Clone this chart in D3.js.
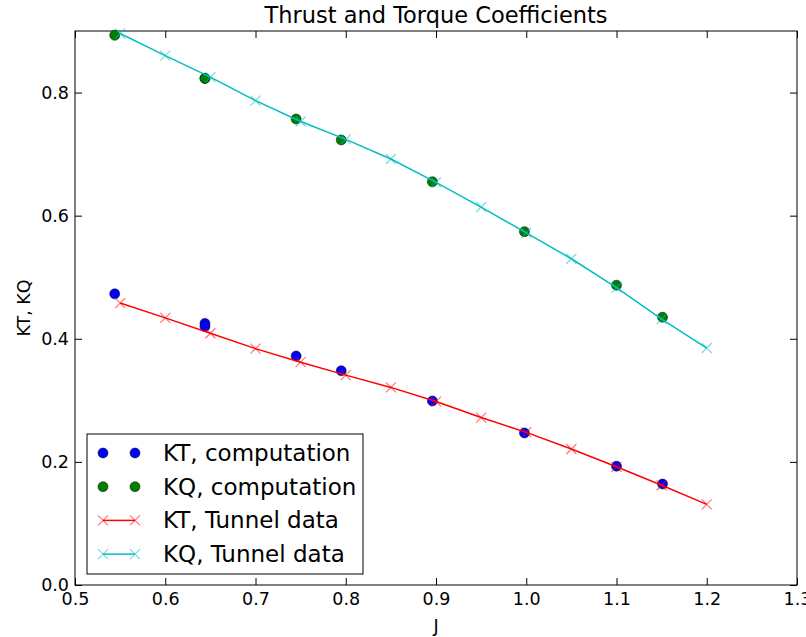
<!DOCTYPE html>
<html>
<head>
<meta charset="utf-8">
<script src="https://cdn.jsdelivr.net/npm/d3@7"></script>
<style>
  body { margin: 0; background: #fff; }
  svg { font-family: "DejaVu Sans", sans-serif; }
</style>
</head>
<body>
<svg width="806" height="637"></svg>
<script>
// computed points
const compJ = [0.544, 0.644, 0.644, 0.745, 0.795, 0.896, 0.998, 1.1, 1.151]
const ktComp = [0.473, 0.425, 0.420, 0.372, 0.348, 0.299, 0.247, 0.193, 0.164]
const kqComp = [0.893, 0.823, 0.823, 0.757, 0.723, 0.655, 0.574, 0.487, 0.435]
// tunnel data
const tunnelJ = [0.55, 0.6, 0.65, 0.7, 0.75, 0.8, 0.85, 0.9, 0.95, 1.0, 1.05, 1.1, 1.15, 1.2]
const ktTunnel = [0.458, 0.434, 0.409, 0.384, 0.362, 0.341, 0.321, 0.298, 0.272, 0.248, 0.221, 0.192, 0.162, 0.131]
const kqTunnel = [0.896, 0.860, 0.825, 0.787, 0.753, 0.724, 0.692, 0.654, 0.614, 0.572, 0.530, 0.483, 0.432, 0.385]
const xTicks = [0.5, 0.6, 0.7, 0.8, 0.9, 1.0, 1.1, 1.2, 1.3]
const yTicks = [0.0, 0.2, 0.4, 0.6, 0.8]

const svg = d3.select('svg')
const pLeft = 75, pRight = 797, pTop = 31, pBottom = 585
const x = d3.scaleLinear().domain([0.5, 1.3]).range([pLeft, pRight])
const y = d3.scaleLinear().domain([0, 0.9]).range([pBottom, pTop])

// ticks (inward, all four sides)
const tickLen = 7
const axB = svg.append('g').attr('transform', `translate(0,${pBottom})`)
    .call(d3.axisBottom(x).tickValues(xTicks).tickFormat(d3.format('.1f')).tickSizeInner(-tickLen).tickSizeOuter(0).tickPadding(8))
const axT = svg.append('g').attr('transform', `translate(0,${pTop})`)
    .call(d3.axisTop(x).tickValues(xTicks).tickFormat('').tickSizeInner(-tickLen).tickSizeOuter(0))
const axL = svg.append('g').attr('transform', `translate(${pLeft},0)`)
    .call(d3.axisLeft(y).tickValues(yTicks).tickFormat(d3.format('.1f')).tickSizeInner(-tickLen).tickSizeOuter(0).tickPadding(6))
const axR = svg.append('g').attr('transform', `translate(${pRight},0)`)
    .call(d3.axisRight(y).tickValues(yTicks).tickFormat('').tickSizeInner(-tickLen).tickSizeOuter(0))
;[axB, axT, axL, axR].forEach(a => {
    a.select('.domain').remove()
    a.selectAll('line').attr('stroke', '#000')
    a.selectAll('text').attr('fill', '#000').style('font-size', '17.5px').style('font-family', '"DejaVu Sans", sans-serif')
})

// frame
svg.append('rect')
    .attr('x', pLeft).attr('y', pTop)
    .attr('width', pRight - pLeft).attr('height', pBottom - pTop)
    .attr('fill', 'none').attr('stroke', '#000').attr('stroke-width', 1)

const line = d3.line().x(d => x(d[0])).y(d => y(d[1]))

function cross(g, cx, cy, color) {
    const s = 5
    g.append('path')
        .attr('d', `M${cx - s},${cy - s}L${cx + s},${cy + s}M${cx - s},${cy + s}L${cx + s},${cy - s}`)
        .attr('stroke', color).attr('stroke-opacity', 0.55).attr('stroke-width', 1.2).attr('fill', 'none')
}

function tunnel(vals, color) {
    const pts = tunnelJ.map((j, i) => [j, vals[i]])
    svg.append('path').datum(pts).attr('d', line)
        .attr('fill', 'none').attr('stroke', color).attr('stroke-width', 1.5)
    const g = svg.append('g')
    pts.forEach(p => cross(g, x(p[0]), y(p[1]), color))
}

function comp(vals, color) {
    svg.append('g').selectAll('circle')
        .data(compJ.map((j, i) => [j, vals[i]]))
        .join('circle')
        .attr('cx', d => x(d[0])).attr('cy', d => y(d[1])).attr('r', 5)
        .attr('fill', color).attr('stroke', '#000').attr('stroke-width', 0.5)
}

comp(ktComp, '#0000ff')
comp(kqComp, '#008000')
tunnel(ktTunnel, '#ff0000')
tunnel(kqTunnel, '#00bfbf')

// title and labels
svg.append('text').attr('x', (pLeft + pRight) / 2).attr('y', 23)
    .attr('text-anchor', 'middle').style('font-size', '22.5px').text('Thrust and Torque Coefficients')
svg.append('text').attr('x', (pLeft + pRight) / 2).attr('y', 632)
    .attr('text-anchor', 'middle').style('font-size', '17.5px').text('J')
svg.append('text').attr('transform', `translate(30,${(pTop + pBottom) / 2}) rotate(-90)`)
    .attr('text-anchor', 'middle').style('font-size', '17.5px').text('KT, KQ')

// legend
const leg = svg.append('g')
leg.append('rect').attr('x', 87).attr('y', 434).attr('width', 276).attr('height', 140)
    .attr('fill', '#fff').attr('stroke', '#000').attr('stroke-width', 1)
const items = [
    {label: 'KT, computation', color: '#0000ff', type: 'dot'},
    {label: 'KQ, computation', color: '#008000', type: 'dot'},
    {label: 'KT, Tunnel data', color: '#ff0000', type: 'line'},
    {label: 'KQ, Tunnel data', color: '#00bfbf', type: 'line'}
]
items.forEach((it, i) => {
    const cy = 453 + i * 33.7
    if (it.type === 'dot') {
        ;[103, 135].forEach(cx => leg.append('circle').attr('cx', cx).attr('cy', cy).attr('r', 5)
            .attr('fill', it.color).attr('stroke', '#000').attr('stroke-width', 0.5))
    } else {
        leg.append('line').attr('x1', 103).attr('x2', 135).attr('y1', cy).attr('y2', cy)
            .attr('stroke', it.color).attr('stroke-width', 1.5)
        cross(leg, 103, cy, it.color)
        cross(leg, 135, cy, it.color)
    }
    leg.append('text').attr('x', 163).attr('y', cy + 8).style('font-size', '23px').text(it.label)
})
</script>
</body>
</html>
